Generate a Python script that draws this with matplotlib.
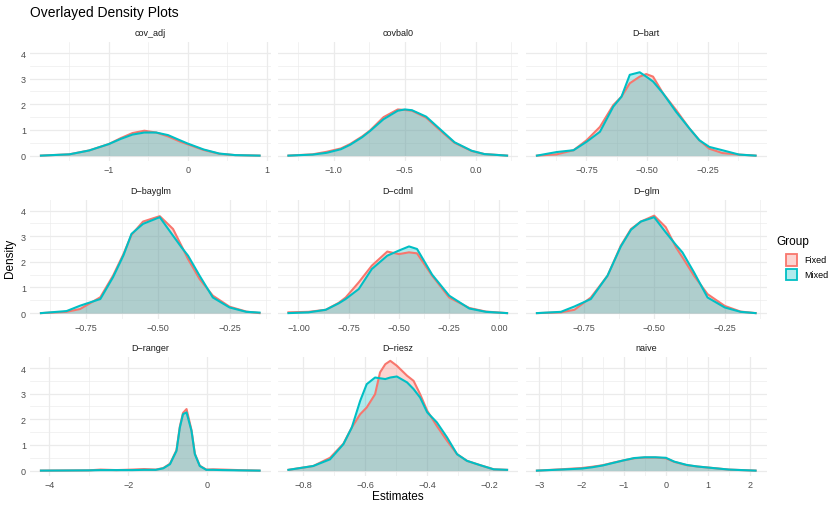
import matplotlib

matplotlib.use("Agg")
import matplotlib.pyplot as plt
from matplotlib.patches import Rectangle

plt.rcParams["font.family"] = ["Liberation Sans", "DejaVu Sans"]

FIXED_COLOR = "#F8766D"
MIXED_COLOR = "#00BFC4"

panel_names = ["cov_adj", "covbal0", "D\u2212bart",
               "D\u2212bayglm", "D\u2212cdml", "D\u2212glm",
               "D\u2212ranger", "D\u2212riesz", "naive"]

# density curves (x grid, Fixed, Mixed)
cov_adj_x = [-1.86, -1.5, -1.25, -1.0, -0.85, -0.7, -0.55, -0.4, -0.25, -0.1, 0.0, 0.2, 0.4, 0.6, 0.91]
cov_adj_fixed = [0.0, 0.05, 0.2, 0.45, 0.68, 0.88, 0.97, 0.9, 0.75, 0.55, 0.44, 0.22, 0.07, 0.02, 0.0]
cov_adj_mixed = [0.0, 0.05, 0.2, 0.45, 0.65, 0.82, 0.9, 0.9, 0.8, 0.6, 0.47, 0.24, 0.08, 0.02, 0.0]

covbal0_x = [-1.32, -1.15, -1.05, -0.95, -0.886, -0.8, -0.745, -0.65, -0.55, -0.5, -0.45, -0.35, -0.23, -0.15, -0.03, 0.06, 0.22]
covbal0_fixed = [0.0, 0.05, 0.15, 0.28, 0.45, 0.75, 0.98, 1.5, 1.8, 1.78, 1.75, 1.48, 0.88, 0.5, 0.18, 0.06, 0.0]
covbal0_mixed = [0.0, 0.04, 0.11, 0.25, 0.42, 0.72, 0.96, 1.42, 1.75, 1.8, 1.77, 1.52, 0.92, 0.52, 0.19, 0.06, 0.0]

bart_x = [-0.954, -0.872, -0.803, -0.749, -0.694, -0.639, -0.605, -0.571, -0.53, -0.503, -0.475,
          -0.434, -0.38, -0.325, -0.284, -0.243, -0.189, -0.12, -0.052]
bart_fixed = [0.0, 0.05, 0.21, 0.6, 1.12, 1.97, 2.3, 2.82, 3.08, 3.18, 3.08,
              2.43, 1.78, 1.06, 0.6, 0.27, 0.1, 0.04, 0.0]
bart_mixed = [0.0, 0.14, 0.21, 0.54, 0.93, 1.91, 2.3, 3.15, 3.25, 3.08, 2.89,
              2.43, 1.71, 1.06, 0.6, 0.34, 0.21, 0.04, 0.0]

bayglm_x = [-0.906, -0.817, -0.77, -0.70, -0.656, -0.62, -0.592, -0.552, -0.494, -0.448, -0.419, -0.396, -0.356, -0.31, -0.252, -0.194, -0.148]
bayglm_fixed = [0.0, 0.05, 0.16, 0.62, 1.46, 2.3, 3.05, 3.57, 3.78, 3.28, 2.63, 2.11, 1.33, 0.68, 0.25, 0.06, 0.0]
bayglm_mixed = [0.0, 0.08, 0.29, 0.55, 1.4, 2.25, 3.09, 3.48, 3.74, 3.02, 2.57, 2.24, 1.46, 0.61, 0.22, 0.05, 0.02]

cdml_x = [-1.05, -0.95, -0.864, -0.80, -0.765, -0.70, -0.635, -0.558, -0.50, -0.45, -0.41, -0.335, -0.25, -0.15, -0.067, 0.038]
cdml_fixed = [0.03, 0.05, 0.13, 0.4, 0.61, 1.2, 1.85, 2.4, 2.3, 2.37, 2.33, 1.46, 0.61, 0.2, 0.06, 0.0]
cdml_mixed = [0.0, 0.03, 0.13, 0.38, 0.55, 0.94, 1.72, 2.24, 2.44, 2.6, 2.5, 1.5, 0.68, 0.18, 0.05, 0.0]

glm_x = [-0.915, -0.83, -0.782, -0.724, -0.665, -0.618, -0.582, -0.547, -0.50, -0.459, -0.423, -0.40, -0.359, -0.311, -0.25, -0.194, -0.141]
glm_fixed = [0.0, 0.03, 0.13, 0.61, 1.46, 2.63, 3.28, 3.57, 3.8, 3.35, 2.57, 2.18, 1.46, 0.74, 0.28, 0.06, 0.0]
glm_mixed = [0.0, 0.05, 0.26, 0.55, 1.46, 2.6, 3.25, 3.57, 3.74, 3.15, 2.66, 2.37, 1.59, 0.61, 0.22, 0.05, 0.0]

ranger_x = [-4.21, -3.0, -2.7, -2.3, -1.9, -1.6, -1.3, -1.11, -0.94, -0.775, -0.69, -0.61, -0.52,
            -0.395, -0.31, -0.185, -0.02, 0.15, 0.4, 0.8, 1.33]
ranger_fixed = [0.0, 0.01, 0.04, 0.02, 0.04, 0.06, 0.04, 0.1, 0.27, 0.8, 1.72, 2.25, 2.4,
                1.58, 0.66, 0.19, 0.04, 0.05, 0.04, 0.02, 0.0]
ranger_mixed = [0.0, 0.01, 0.02, 0.02, 0.02, 0.03, 0.03, 0.09, 0.25, 0.77, 1.68, 2.2, 2.27,
                1.55, 0.64, 0.18, 0.03, 0.03, 0.02, 0.01, 0.0]

riesz_x = [-0.847, -0.767, -0.713, -0.67, -0.643, -0.616, -0.595, -0.568, -0.552, -0.535, -0.519,
           -0.498, -0.465, -0.444, -0.423, -0.40, -0.369, -0.336, -0.304, -0.272, -0.229, -0.186, -0.143]
riesz_fixed = [0.03, 0.18, 0.5, 1.05, 1.68, 2.2, 2.46, 2.98, 3.83, 4.15, 4.28,
               4.09, 3.7, 3.5, 2.98, 2.33, 1.74, 1.16, 0.64, 0.38, 0.21, 0.05, 0.03]
riesz_mixed = [0.03, 0.18, 0.44, 1.03, 1.68, 2.72, 3.37, 3.63, 3.6, 3.57, 3.63,
               3.67, 3.44, 3.18, 2.85, 2.27, 1.88, 1.29, 0.64, 0.38, 0.21, 0.05, 0.03]

naive_x = [-3.06, -2.5, -2.0, -1.75, -1.5, -1.25, -1.0, -0.75, -0.5, -0.25, 0.0, 0.2, 0.5, 0.75, 1.0, 1.5, 2.13]
naive_fixed = [0.0, 0.05, 0.1, 0.15, 0.21, 0.31, 0.4, 0.48, 0.51, 0.51, 0.48, 0.34, 0.21, 0.16, 0.12, 0.04, 0.0]
naive_mixed = [0.0, 0.04, 0.08, 0.13, 0.2, 0.3, 0.4, 0.49, 0.52, 0.52, 0.5, 0.35, 0.22, 0.16, 0.12, 0.04, 0.0]

panel_x = [cov_adj_x, covbal0_x, bart_x, bayglm_x, cdml_x, glm_x, ranger_x, riesz_x, naive_x]
panel_fixed = [cov_adj_fixed, covbal0_fixed, bart_fixed, bayglm_fixed, cdml_fixed, glm_fixed,
               ranger_fixed, riesz_fixed, naive_fixed]
panel_mixed = [cov_adj_mixed, covbal0_mixed, bart_mixed, bayglm_mixed, cdml_mixed, glm_mixed,
               ranger_mixed, riesz_mixed, naive_mixed]

panel_xticks = [
    [-1, 0, 1],
    [-1.0, -0.5, 0.0],
    [-0.75, -0.50, -0.25],
    [-0.75, -0.50, -0.25],
    [-1.00, -0.75, -0.50, -0.25, 0.00],
    [-0.75, -0.50, -0.25],
    [-4, -2, 0],
    [-0.8, -0.6, -0.4, -0.2],
    [-3, -2, -1, 0, 1, 2],
]
panel_xlabels = [
    ["\u22121", "0", "1"],
    ["\u22121.0", "\u22120.5", "0.0"],
    ["\u22120.75", "\u22120.50", "\u22120.25"],
    ["\u22120.75", "\u22120.50", "\u22120.25"],
    ["\u22121.00", "\u22120.75", "\u22120.50", "\u22120.25", "0.00"],
    ["\u22120.75", "\u22120.50", "\u22120.25"],
    ["\u22124", "\u22122", "0"],
    ["\u22120.8", "\u22120.6", "\u22120.4", "\u22120.2"],
    ["\u22123", "\u22122", "\u22121", "0", "1", "2"],
]
y_ticks = [0, 1, 2, 3, 4]

W, H = 840, 510
fig = plt.figure(figsize=(W / 100, H / 100), dpi=100)

col_left = [30, 277.5, 526]
row_top = [43, 200.5, 358]
pw, ph = 240.5, 119
grid_col = "#ebebeb"
text_col = "#4d4d4d"

for i, name in enumerate(panel_names):
    r, c = divmod(i, 3)
    ax = fig.add_axes([col_left[c] / W, 1 - (row_top[r] + ph) / H, pw / W, ph / H])
    xs = panel_x[i]
    for ys, col in ((panel_fixed[i], FIXED_COLOR), (panel_mixed[i], MIXED_COLOR)):
        ax.fill_between(xs, ys, color=col, alpha=0.3, linewidth=0)
        ax.plot(xs, ys, color=col, linewidth=1.5, solid_joinstyle="round")

    lo, hi = min(xs), max(xs)
    pad = 0.05 * (hi - lo)
    ax.set_xlim(lo - pad, hi + pad)
    ax.set_ylim(-0.21, 4.43)

    ticks = panel_xticks[i]
    step = ticks[1] - ticks[0]
    minor = [ticks[0] - step / 2] + [t + step / 2 for t in ticks]
    minor = [m for m in minor if lo - pad <= m <= hi + pad]
    ax.set_xticks(ticks)
    ax.set_xticklabels(panel_xlabels[i])
    ax.set_xticks(minor, minor=True)
    ax.set_yticks(y_ticks)
    ax.set_yticks([0.5, 1.5, 2.5, 3.5], minor=True)
    if c == 0:
        ax.set_yticklabels([str(t) for t in y_ticks])
    else:
        ax.set_yticklabels([])

    ax.grid(which="major", color=grid_col, linewidth=0.9)
    ax.grid(which="minor", color=grid_col, linewidth=0.45)
    ax.set_axisbelow(True)
    for s in ax.spines.values():
        s.set_visible(False)
    ax.tick_params(which="both", length=0, labelsize=6.5, colors=text_col, pad=3)
    ax.set_title(name, fontsize=6.5, color="#1a1a1a", pad=5)

fig.text(30 / W, 1 - 12.5 / H, "Overlayed Density Plots", fontsize=10, color="black",
         ha="left", va="center")
fig.text(10 / W, 1 - 258 / H, "Density", fontsize=8.5, rotation=90, ha="center", va="center")
fig.text(398 / W, 1 - 497 / H, "Estimates", fontsize=8.5, ha="center", va="center")

# legend
fig.text(776 / W, 1 - 242.5 / H, "Group", fontsize=8.5, ha="left", va="center")
for k, (lab, col) in enumerate((("Fixed", FIXED_COLOR), ("Mixed", MIXED_COLOR))):
    yc = 260.7 + k * 14.6
    fig.patches.append(Rectangle((785.5 / W, 1 - (yc + 5.8) / H), 11.5 / W, 11.6 / H,
                                 transform=fig.transFigure, facecolor=col, alpha=0.3, linewidth=0))
    fig.patches.append(Rectangle((785.5 / W, 1 - (yc + 5.8) / H), 11.5 / W, 11.6 / H,
                                 transform=fig.transFigure, facecolor="none", edgecolor=col,
                                 linewidth=1.3))
    fig.text(804 / W, 1 - yc / H, lab, fontsize=6.5, ha="left", va="center")

fig.savefig("out.png", dpi=100)
